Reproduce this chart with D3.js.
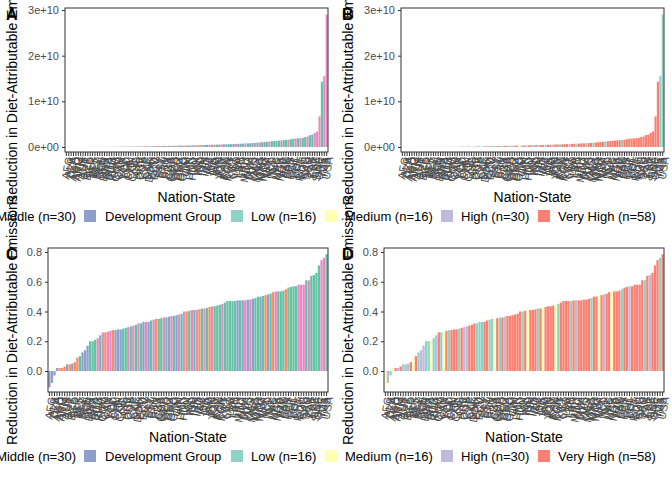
<!DOCTYPE html>
<html lang="en">
<head>
<meta charset="UTF-8">
<script src="https://d3js.org/d3.v7.min.js"></script>
<style>
  body { margin: 0; background: #fff; font-family: "Liberation Sans", Arial, sans-serif; }
  svg text { font-family: "Liberation Sans", Arial, sans-serif; }
</style>
</head>
<body>
<svg id="chart" width="672" height="480"></svg>
<script>
// Nation-state codes (one per bar)
const nations = ("AFG,ALB,DZA,AGO,ARG,ARM,AUS,AUT,AZE,BGD,BLR,BEL,BLZ,BEN,BOL,BIH,BWA,BRA,BGR,BFA," +
  "KHM,CMR,CAN,CAF,TCD,CHL,CHN,COL,COG,CRI,HRV,CUB,CYP,CZE,DNK,DOM,ECU,EGY,SLV,EST," +
  "ETH,FIN,FRA,GAB,GMB,GEO,DEU,GHA,GRC,GTM,GIN,HTI,HND,HUN,ISL,IND,IDN,IRN,IRQ,IRL," +
  "ISR,ITA,JAM,JPN,JOR,KAZ,KEN,KOR,KWT,KGZ,LAO,LVA,LBN,LBR,LTU,MDG,MWI,MYS,MLI,MEX," +
  "MNG,MAR,MOZ,NAM,NPL,NLD,NZL,NIC,NER,NGA,NOR,PAK,PAN,PRY,PER,PHL,POL,PRT,ROU,RUS," +
  "SAU,SEN,ZAF,ESP,LKA,SWE,CHE,TZA,THA,USA").split(",");

// A/B: reduction in diet-attributable emissions (x 1e9), sorted ascending
const emissions = [
  0.001,0.002,0.003,0.004,0.005,0.006,0.008,0.01,0.012,0.015,
  0.018,0.02,0.022,0.025,0.028,0.03,0.033,0.036,0.04,0.045,
  0.05,0.055,0.06,0.065,0.07,0.075,0.08,0.09,0.1,0.11,
  0.12,0.13,0.14,0.15,0.16,0.17,0.18,0.19,0.2,0.21,
  0.22,0.23,0.24,0.25,0.26,0.27,0.28,0.29,0.3,0.31,
  0.32,0.33,0.34,0.35,0.36,0.38,0.4,0.42,0.44,0.46,
  0.48,0.5,0.5,0.52,0.54,0.56,0.58,0.6,0.62,0.64,
  0.66,0.68,0.7,0.72,0.75,0.78,0.8,0.82,0.85,0.9,
  0.95,1.0,1.05,1.1,1.15,1.2,1.25,1.3,1.35,1.4,
  1.45,1.5,1.55,1.6,1.7,1.8,1.85,1.9,1.9,2.0,
  2.2,2.3,2.6,2.7,3.1,3.4,6.7,14.3,15.5,29.0
].map(v => v * 1e9);

// C/D: proportional reduction, sorted ascending
const proportion = [
  -0.11,-0.08,-0.03,0.02,0.02,0.02,0.03,0.045,0.045,0.05,
  0.06,0.09,0.1,0.125,0.14,0.17,0.2,0.2,0.21,0.22,
  0.24,0.26,0.26,0.265,0.27,0.275,0.275,0.28,0.28,0.285,
  0.29,0.295,0.3,0.305,0.31,0.32,0.32,0.33,0.33,0.33,
  0.34,0.345,0.35,0.35,0.355,0.36,0.36,0.365,0.37,0.37,
  0.375,0.38,0.385,0.4,0.4,0.405,0.41,0.41,0.41,0.415,
  0.42,0.42,0.425,0.43,0.435,0.435,0.44,0.445,0.45,0.46,
  0.47,0.47,0.47,0.47,0.475,0.475,0.475,0.475,0.48,0.48,
  0.485,0.49,0.5,0.5,0.505,0.51,0.515,0.52,0.53,0.535,
  0.535,0.535,0.54,0.55,0.56,0.565,0.57,0.57,0.58,0.58,
  0.58,0.61,0.61,0.64,0.645,0.66,0.71,0.745,0.76,0.785
];

// group codes per bar (g/o/b/p income; t/y/l/r development)
const incomeA = ["pbgopgbpgo","bgpogbpgbo","pgbpogbpgo","bpgobpgbpo","gbpgobpgbp","ogbpgopbgb",
  "pgobgpbgbg","bpgbgpgbgp","gpgbgpgggg","pggpggpgpg","gpggpppgpp"].join("").split("");
const devB = ["tyltyrltyl","ytrlytlrty","lrtylrtlry","tlrytrlrtl","rtlrrtlrry","trlrrtrlrr",
  "trrlrrtrrr","lrrtrrrlrr","trrrrtrrrr","rrtrrrrrrr","rrrrrrrrtt"].join("").split("");
const incomeC = ["bbbbooobob","oogbbbgggp","gpoppobbbg","gpgpgpgbpb","gpoggpgbpg","bpgpogpgpo",
  "gpgopgggpg","ggggbgbpbp","bggbgobgop","gggoggggpp","pgpggggppg"].join("").split("");
const devD = ["yltyrlrltl","ryrtllttyt","lrtyrtrrrt","rllrrrtttr","rttyrtrlrr","rrrrtryrrr",
  "tryrrrrytr","rrrtrlrrrr","rtrryrlrry","rrrtrrlrrr","rrtrlrrrtr"].join("").split("");

const groupColors = {
  g: "#66C2A5", o: "#FC8D62", b: "#8DA0CB", p: "#E78AC3",
  t: "#8DD3C7", y: "#FFFFB3", l: "#BEBADA", r: "#FB8072"
};

// legend row as it shows in the picture
const legendItems = [
  { label: "Middle (n=30)", key: null },
  { label: "", key: "b" },
  { label: "Development Group", key: null },
  { label: "Low (n=16)", key: "t" },
  { label: "Medium (n=16)", key: "y" },
  { label: "High (n=30)", key: "l" },
  { label: "Very High (n=58)", key: "r" }
];

const yTitle = "Reduction in Diet-Attributable Emissions";
const svg = d3.select("#chart");

function sciFormat(v) {
  if (v === 0) return "0e+00";
  const e = Math.floor(Math.log10(Math.abs(v)));
  return (v / Math.pow(10, e)).toFixed(0) + "e+" + String(e).padStart(2, "0");
}

function panel(ox, oy, tag, values, groups, opts) {
  const g = svg.append("g").attr("transform", `translate(${ox},${oy})`);
  const n = values.length;
  const x = d3.scaleBand().domain(d3.range(n)).range([opts.left, 328]).padding(0.1);
  const y = d3.scaleLinear().domain(opts.domain).range([opts.bottom, opts.top]);

  g.selectAll("rect.bar").data(values).enter().append("rect")
    .attr("class", "bar")
    .attr("x", (d, i) => x(i))
    .attr("width", x.bandwidth())
    .attr("y", d => y(Math.max(0, d)))
    .attr("height", d => Math.abs(y(d) - y(0)))
    .attr("fill", (d, i) => groupColors[groups[i]]);

  g.append("rect")
    .attr("x", opts.left).attr("y", opts.top0)
    .attr("width", 328 - opts.left).attr("height", 152 - opts.top0)
    .attr("fill", "none").attr("stroke", "#333").attr("stroke-width", 1);

  const ya = g.append("g").attr("transform", `translate(${opts.left},0)`)
    .call(d3.axisLeft(y).tickValues(opts.ticks).tickFormat(opts.fmt).tickSize(3));
  ya.select(".domain").remove();
  ya.selectAll("text").attr("fill", "#4d4d4d").style("font-size", "11px");
  ya.selectAll("line").attr("stroke", "#333");

  const xa = g.append("g").attr("transform", "translate(0,152)")
    .call(d3.axisBottom(x).tickSize(4).tickFormat(i => nations[i % nations.length]));
  xa.select(".domain").remove();
  xa.selectAll("line").attr("stroke", "#333");
  xa.selectAll("text")
    .attr("fill", "#4d4d4d").style("font-size", "11px")
    .attr("text-anchor", "end")
    .attr("transform", "rotate(-80)")
    .attr("dx", "-0.4em").attr("dy", "0.05em");

  g.append("text").attr("x", (opts.left + 328) / 2).attr("y", 202)
    .attr("text-anchor", "middle").style("font-size", "14px").text("Nation-State");

  g.append("text")
    .attr("transform", `translate(17,${(opts.top0 + 152) / 2}) rotate(-90)`)
    .attr("text-anchor", "middle").style("font-size", "14px").text(yTitle);

  g.append("text").attr("x", 6).attr("y", 20)
    .style("font-size", "16px").style("font-weight", "bold").text(tag);
}

function legendRow(oy) {
  const xs = [76, 84, 105, 231, 325, 441, 538];
  legendItems.forEach((it, i) => {
    if (it.key) {
      svg.append("rect").attr("x", xs[i]).attr("y", oy - 10).attr("width", 12).attr("height", 12)
        .attr("fill", groupColors[it.key]);
      if (it.label) svg.append("text").attr("x", xs[i] + 20).attr("y", oy + 1)
        .style("font-size", "13px").text(it.label);
    } else {
      svg.append("text").attr("x", xs[i]).attr("y", oy + 1)
        .attr("text-anchor", i === 0 ? "end" : "start")
        .style("font-size", "13px").text(it.label);
    }
  });
}

const emisOpts = {
  left: 65, top0: 8, top: 10, bottom: 147, domain: [0, 3e10],
  ticks: [0, 1e10, 2e10, 3e10], fmt: sciFormat
};
const propOpts = {
  left: 48, top0: 8, top: 12, bottom: 131, domain: [0, 0.8],
  ticks: [0, 0.2, 0.4, 0.6, 0.8], fmt: d3.format(".1f")
};

panel(0, 0, "A", emissions, incomeA, emisOpts);
panel(336, 0, "B", emissions, devB, emisOpts);
panel(0, 240, "C", proportion, incomeC, propOpts);
panel(336, 240, "D", proportion, devD, propOpts);
legendRow(220);
legendRow(460);
</script>
</body>
</html>
